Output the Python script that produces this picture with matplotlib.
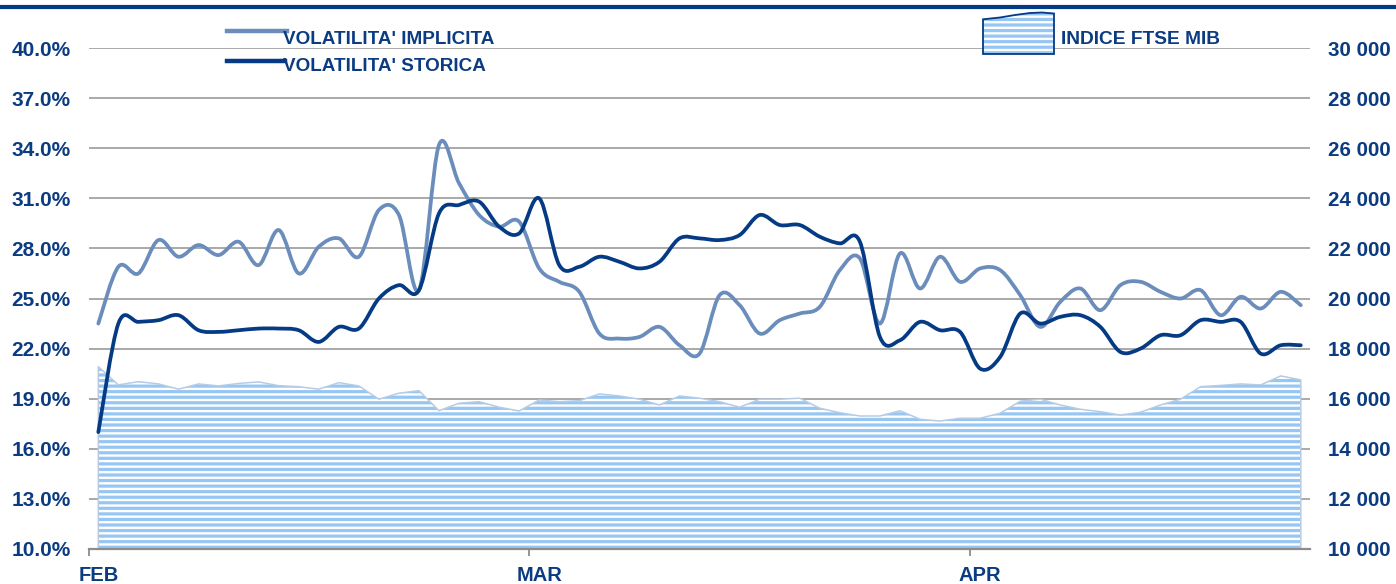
import numpy as np
import matplotlib
matplotlib.use('Agg')
import matplotlib.pyplot as plt
import matplotlib.ticker as mticker
from matplotlib.path import Path
from matplotlib.patches import PathPatch
from matplotlib.lines import Line2D

# daily values, Feb -> Apr
vol_implicita = [23.5, 26.9, 26.5, 28.5, 27.5, 28.2, 27.6, 28.4, 27.0, 29.1,
                 26.5, 28.1, 28.6, 27.5, 30.3, 30.0, 25.5, 34.2, 31.9, 30.0,
                 29.3, 29.6, 26.8, 26.0, 25.4, 22.9, 22.6, 22.7, 23.3, 22.2,
                 21.7, 25.2, 24.6, 22.9, 23.7, 24.1, 24.5, 26.7, 27.4, 23.5,
                 27.7, 25.6, 27.5, 26.0, 26.8, 26.7, 25.2, 23.3, 24.8, 25.6,
                 24.3, 25.8, 26.0, 25.4, 25.0, 25.5, 24.0, 25.1, 24.4, 25.4, 24.6]
vol_storica = [17.0, 23.5, 23.6, 23.7, 24.0, 23.1, 23.0, 23.1, 23.2, 23.2,
               23.1, 22.4, 23.3, 23.2, 25.0, 25.8, 25.5, 30.1, 30.6, 30.8,
               29.3, 28.9, 31.0, 27.0, 26.9, 27.5, 27.2, 26.8, 27.2, 28.6,
               28.6, 28.5, 28.8, 30.0, 29.4, 29.4, 28.7, 28.3, 28.4, 22.7,
               22.5, 23.6, 23.1, 23.0, 20.8, 21.5, 24.1, 23.5, 23.9, 24.0,
               23.3, 21.8, 22.0, 22.8, 22.8, 23.7, 23.6, 23.6, 21.7, 22.2, 22.2]
ftse_mib = [17280, 16550, 16680, 16590, 16380, 16590, 16510, 16610, 16670, 16520,
            16480, 16380, 16640, 16510, 15980, 16220, 16320, 15520, 15820, 15880,
            15660, 15510, 15950, 15880, 15920, 16190, 16110, 15980, 15750, 16110,
            16020, 15880, 15660, 15980, 15980, 16020, 15620, 15440, 15310, 15310,
            15520, 15180, 15110, 15220, 15220, 15420, 15900, 15980, 15750, 15580,
            15480, 15350, 15460, 15750, 15980, 16480, 16530, 16590, 16550, 16910, 16750]
months = ['FEB', 'MAR', 'APR']
month_first_day = [0, 22, 44]
pct_ticks = [10, 13, 16, 19, 22, 25, 28, 31, 34, 37, 40]

NAVY = '#0B3B80'
DARK = '#053A84'
LIGHT = '#6A8DBC'
STRIPE = '#96C6F4'
OUTLINE = '#B8CBE3'
GRID = '#A3A3A3'

plt.rcParams['font.family'] = ['Liberation Sans', 'DejaVu Sans']
plt.rcParams['font.weight'] = 'bold'
plt.rcParams['hatch.linewidth'] = 2.3


def smooth_path(x, y):
    # catmull-rom style bezier, like excel "smoothed line"
    pts = np.column_stack([x, y]).astype(float)
    n = len(pts)
    verts = [pts[0]]
    codes = [Path.MOVETO]
    for i in range(n - 1):
        p0 = pts[max(i - 1, 0)]
        p1 = pts[i]
        p2 = pts[i + 1]
        p3 = pts[min(i + 2, n - 1)]
        verts += [p1 + (p2 - p0) / 6, p2 - (p3 - p1) / 6, p2]
        codes += [Path.CURVE4] * 3
    return Path(verts, codes)


W, H = 1396, 584
fig = plt.figure(figsize=(W / 100, H / 100), dpi=100)
ax = fig.add_axes([89.3 / W, 35 / H, 1220.7 / W, 501 / H])
ax2 = ax.twinx()
ax.set_zorder(ax2.get_zorder() + 1)
ax.patch.set_visible(False)

x = np.arange(len(ftse_mib))

# area (right axis)
ax2.fill_between(x, 10000, ftse_mib, facecolor='white', edgecolor=STRIPE,
                 hatch='---', linewidth=0, zorder=1)
ax2.fill_between(x, 10000, ftse_mib, facecolor='none', edgecolor=OUTLINE,
                 linewidth=1.1, zorder=1.1)
ax2.set_ylim(10000, 30000)
ax2.yaxis.set_major_locator(mticker.MultipleLocator(2000))
ax2.yaxis.set_major_formatter(mticker.FuncFormatter(
    lambda v, _: f'{int(v):,}'.replace(',', ' ')))
ax2.set_axisbelow(True)
ax2.yaxis.grid(True, color=GRID, linewidth=1.3)
ax2.tick_params(axis='y', length=0, pad=13, labelsize=14.8, labelcolor=NAVY)
for s in ax2.spines.values():
    s.set_visible(False)

# volatility lines (left axis)
ax.add_patch(PathPatch(smooth_path(x, vol_implicita), fill=False,
                       edgecolor=LIGHT, linewidth=2.7, capstyle='round', joinstyle='round'))
ax.add_patch(PathPatch(smooth_path(x, vol_storica), fill=False,
                       edgecolor=DARK, linewidth=2.7, capstyle='round', joinstyle='round'))
ax.set_ylim(10, 40)
ax.set_xlim(-0.45, len(x) - 1 + 0.46)
ax.set_yticks(pct_ticks)
ax.yaxis.set_major_formatter(mticker.FuncFormatter(lambda v, _: f'{v:.1f}%'))
ax.tick_params(axis='y', length=0, pad=13.5, labelsize=15, labelcolor=NAVY)

ax.set_xticks([-0.45, 21.5, 43.5])
ax.set_xticklabels([])
ax.set_xticks(month_first_day, minor=True)
ax.set_xticklabels(months, minor=True)
ax.tick_params(axis='x', which='major', length=5, width=1.3, color='#8C8C8C', direction='out')
ax.tick_params(axis='x', which='minor', length=0, pad=12, labelsize=14.5, labelcolor=NAVY)
for side in ['left', 'right', 'top']:
    ax.spines[side].set_visible(False)
ax.spines['bottom'].set_color('#8C8C8C')
ax.spines['bottom'].set_linewidth(1.6)

# top rule
fig.add_artist(Line2D([0, 1], [1 - 7 / H] * 2, transform=fig.transFigure,
                      color=DARK, linewidth=3))

# legend, drawn by hand
fs = 13.6
fig.add_artist(Line2D([227 / W, 287 / W], [1 - 31 / H] * 2, transform=fig.transFigure,
                      color=LIGHT, linewidth=3.2))
fig.text(283 / W, 1 - 44 / H, "VOLATILITA' IMPLICITA", fontsize=fs, color=NAVY,
         va='baseline', ha='left')
fig.add_artist(Line2D([227 / W, 285 / W], [1 - 60.5 / H] * 2, transform=fig.transFigure,
                      color=DARK, linewidth=3.2))
fig.text(283 / W, 1 - 71 / H, "VOLATILITA' STORICA", fontsize=fs, color=NAVY,
         va='baseline', ha='left')

wave_x = [983, 1000, 1015, 1030, 1042, 1054]
wave_y = [19.3, 17.5, 15, 13, 12.5, 13.5]
box_px = [(983, 54), (1054, 54)] + list(zip(wave_x[::-1], wave_y[::-1]))
box = [(px / W, 1 - py / H) for px, py in box_px]
fig.add_artist(plt.Polygon(box, closed=True, transform=fig.transFigure,
                           facecolor='white', edgecolor=STRIPE, hatch='---', linewidth=0))
fig.add_artist(plt.Polygon(box, closed=True, transform=fig.transFigure,
                           facecolor='none', edgecolor=DARK, linewidth=1.3))
fig.text(1061 / W, 1 - 44 / H, 'INDICE FTSE MIB', fontsize=13.8, color=NAVY,
         va='baseline', ha='left')

fig.savefig('out.png', dpi=100)
